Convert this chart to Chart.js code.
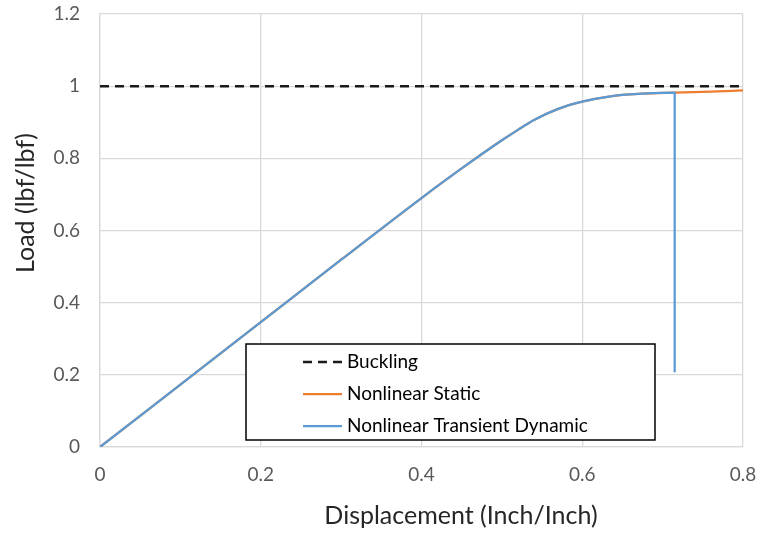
<!DOCTYPE html>
<html>
<head>
<meta charset="utf-8">
<script src="https://cdn.jsdelivr.net/npm/chart.js@4.4.1/dist/chart.umd.min.js"></script>
<style>
  html, body { margin: 0; padding: 0; background: #fff; }
  #wrap { width: 759px; height: 533px; }
</style>
</head>
<body>
<div id="wrap"><canvas id="myChart" width="759" height="533"></canvas></div>
<script>
// values
const bucklingDisp = [0, 0.8];
const bucklingLoad = [1, 1];

const staticDisp = [0, 0.1, 0.2, 0.3, 0.4, 0.45, 0.5, 0.52, 0.54, 0.57, 0.6, 0.635, 0.675, 0.715, 0.76, 0.8];
const staticLoad = [0, 0.173, 0.346, 0.519, 0.69, 0.772, 0.85, 0.879, 0.906, 0.937, 0.957, 0.972, 0.979, 0.982, 0.985, 0.988];

const dynamicDisp = [0, 0.1, 0.2, 0.3, 0.4, 0.45, 0.5, 0.52, 0.54, 0.57, 0.6, 0.635, 0.675, 0.715, 0.715];
const dynamicLoad = [0, 0.173, 0.346, 0.519, 0.69, 0.772, 0.85, 0.879, 0.906, 0.937, 0.957, 0.972, 0.979, 0.982, 0.207];

const xTicks = [0, 0.2, 0.4, 0.6, 0.8];
const yTicks = [0, 0.2, 0.4, 0.6, 0.8, 1, 1.2];

const seriesNames = ['Buckling', 'Nonlinear Static', 'Nonlinear Transient Dynamic'];
const xTitle = 'Displacement (Inch/Inch)';
const yTitle = 'Load (lbf/lbf)';

const FONT = 'Lato, "Open Sans", sans-serif';

function pts(xs, ys) {
  return xs.map((x, i) => ({x: x, y: ys[i]}));
}

// legend box inside the plot, drawn like the excel one
const boxLegend = {
  id: 'boxLegend',
  afterDatasetsDraw(chart) {
    const ctx = chart.ctx;
    const a = chart.chartArea;
    const left = a.left + 146, top = a.top + 330, w = 409, h = 96;
    ctx.save();
    ctx.fillStyle = '#fff';
    ctx.fillRect(left, top, w, h);
    ctx.strokeStyle = '#000';
    ctx.lineWidth = 1.5;
    ctx.strokeRect(left, top, w, h);
    ctx.font = '19px ' + FONT;
    ctx.textBaseline = 'middle';
    ctx.fillStyle = '#000';
    chart.data.datasets.forEach((ds, i) => {
      const y = top + 18 + i * 32;
      ctx.beginPath();
      ctx.strokeStyle = ds.borderColor;
      ctx.lineWidth = ds.borderWidth;
      ctx.setLineDash(ds.borderDash || []);
      ctx.moveTo(left + 57, y);
      ctx.lineTo(left + 96, y);
      ctx.stroke();
      ctx.setLineDash([]);
      ctx.fillText(ds.label, left + 101, y);
    });
    ctx.restore();
  }
};

// axis titles placed where the original puts them
const axisTitles = {
  id: 'axisTitles',
  afterDraw(chart) {
    const ctx = chart.ctx;
    ctx.save();
    ctx.fillStyle = '#262626';
    ctx.font = '25px ' + FONT;
    ctx.textAlign = 'center';
    ctx.textBaseline = 'middle';
    ctx.fillText(xTitle, 461, 516);
    ctx.translate(26, 203);
    ctx.rotate(-Math.PI / 2);
    ctx.fillText(yTitle, 0, 0);
    ctx.restore();
  }
};

var canvas = document.getElementById('myChart');

var myChart = new Chart(canvas, {
  type: 'scatter',
  data: {
    datasets: [{
      label: seriesNames[0],
      data: pts(bucklingDisp, bucklingLoad),
      showLine: true,
      borderColor: '#1a1a1a',
      borderWidth: 2.5,
      borderDash: [9, 6],
      pointRadius: 0,
      order: 0
    }, {
      label: seriesNames[1],
      data: pts(staticDisp, staticLoad),
      showLine: true,
      borderColor: '#ed7d31',
      borderWidth: 2.25,
      pointRadius: 0,
      cubicInterpolationMode: 'monotone',
      order: 2
    }, {
      label: seriesNames[2],
      data: pts(dynamicDisp, dynamicLoad),
      showLine: true,
      borderColor: '#5b9bd5',
      borderWidth: 2.25,
      pointRadius: 0,
      cubicInterpolationMode: 'monotone',
      order: 1
    }]
  },
  options: {
    responsive: false,
    animation: false,
    layout: { padding: { top: 14, right: 16 } },
    plugins: {
      legend: { display: false },
      tooltip: { enabled: false }
    },
    scales: {
      x: {
        type: 'linear',
        min: 0,
        max: 0.8,
        afterBuildTicks: (s) => { s.ticks = xTicks.map(v => ({value: v})); },
        afterFit: (s) => {
          s.height = 86;
          s.paddingLeft = 0;
          s.paddingRight = 0;
        },
        ticks: {
          color: '#595959',
          font: { family: FONT, size: 19 },
          padding: 16,
          callback: (v) => String(v)
        },
        grid: { color: '#d9d9d9', lineWidth: 1.3, drawTicks: false },
        border: { color: '#d9d9d9', width: 1.3 }
      },
      y: {
        type: 'linear',
        min: 0,
        max: 1.2,
        afterBuildTicks: (s) => { s.ticks = yTicks.map(v => ({value: v})); },
        afterFit: (s) => {
          s.width = 100;
          s.paddingTop = 0;
          s.paddingBottom = 0;
        },
        ticks: {
          color: '#595959',
          font: { family: FONT, size: 19 },
          padding: 20,
          callback: (v) => String(v)
        },
        grid: { color: '#d9d9d9', lineWidth: 1.3, drawTicks: false },
        border: { color: '#d9d9d9', width: 1.3 }
      }
    }
  },
  plugins: [boxLegend, axisTitles]
});
</script>
</body>
</html>
